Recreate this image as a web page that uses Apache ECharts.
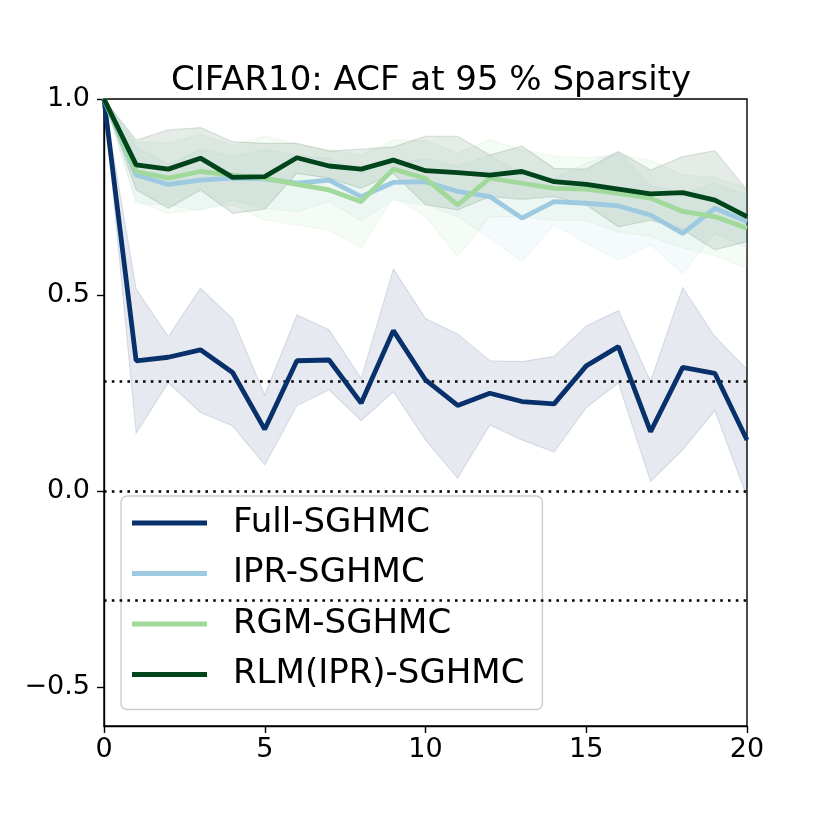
<!DOCTYPE html>
<html>
<head>
<meta charset="utf-8">
<script src="https://cdn.jsdelivr.net/npm/echarts@6/dist/echarts.min.js"></script>
<style>html,body{margin:0;padding:0;background:#fff}#c{width:830px;height:830px}</style>
</head>
<body>
<div id="c"></div>
<script>
const lags = [0,1,2,3,4,5,6,7,8,9,10,11,12,13,14,15,16,17,18,19,20];

const fullMean  = [1.0,0.332,0.341,0.36,0.302,0.157,0.332,0.334,0.224,0.409,0.283,0.218,0.249,0.228,0.222,0.319,0.368,0.151,0.315,0.30,0.13];
const fullUpper = [1.0,0.515,0.394,0.517,0.439,0.245,0.449,0.411,0.287,0.566,0.44,0.40,0.332,0.33,0.343,0.421,0.46,0.279,0.519,0.394,0.31];
const fullLower = [1.0,0.147,0.276,0.20,0.166,0.066,0.217,0.258,0.179,0.253,0.13,0.032,0.168,0.13,0.099,0.213,0.275,0.024,0.105,0.205,-0.015];

const iprMean  = [1.0,0.806,0.782,0.793,0.798,0.796,0.785,0.793,0.751,0.787,0.789,0.764,0.751,0.696,0.738,0.734,0.727,0.704,0.657,0.721,0.687];
const iprUpper = [1.0,0.878,0.834,0.871,0.854,0.871,0.857,0.848,0.813,0.832,0.848,0.828,0.857,0.807,0.797,0.836,0.865,0.78,0.759,0.785,0.754];
const iprLower = [1.0,0.734,0.73,0.715,0.742,0.721,0.713,0.738,0.689,0.742,0.73,0.70,0.645,0.585,0.679,0.632,0.589,0.628,0.555,0.657,0.62];

const rgmMean  = [1.0,0.815,0.798,0.815,0.806,0.798,0.782,0.768,0.738,0.821,0.797,0.73,0.798,0.785,0.772,0.77,0.759,0.747,0.713,0.70,0.67];
const rgmUpper = [1.0,0.89,0.888,0.91,0.882,0.905,0.885,0.87,0.857,0.895,0.894,0.862,0.896,0.87,0.854,0.85,0.858,0.844,0.806,0.80,0.772];
const rgmLower = [1.0,0.74,0.708,0.72,0.73,0.691,0.679,0.666,0.619,0.75,0.70,0.598,0.70,0.70,0.69,0.69,0.66,0.65,0.62,0.60,0.568];

const rlmMean  = [1.0,0.832,0.821,0.849,0.80,0.802,0.85,0.829,0.821,0.844,0.817,0.812,0.806,0.815,0.789,0.782,0.770,0.758,0.761,0.742,0.70];
const rlmUpper = [1.0,0.895,0.921,0.927,0.891,0.887,0.887,0.867,0.872,0.878,0.905,0.905,0.857,0.88,0.823,0.821,0.866,0.819,0.853,0.868,0.768];
const rlmLower = [1.0,0.768,0.721,0.768,0.708,0.719,0.81,0.798,0.772,0.81,0.73,0.717,0.751,0.744,0.751,0.73,0.674,0.691,0.667,0.615,0.636];

const thresholds = [0.283, 0, -0.283];
const yTicks = [-0.5, 0, 0.5, 1.0];

const names = ['Full-SGHMC','IPR-SGHMC','RGM-SGHMC','RLM(IPR)-SGHMC'];
const colors = ['#08306b','#9ecae1','#a1d99b','#00441b'];
const means = [fullMean, iprMean, rgmMean, rlmMean];
const uppers = [fullUpper, iprUpper, rgmUpper, rlmUpper];
const lowers = [fullLower, iprLower, rgmLower, rlmLower];

function hexA(hex, a){
  const r=parseInt(hex.slice(1,3),16), g=parseInt(hex.slice(3,5),16), b=parseInt(hex.slice(5,7),16);
  return 'rgba('+r+','+g+','+b+','+a+')';
}

const series = [];
for (let k=0;k<4;k++){
  const up = uppers[k], lo = lowers[k], col = colors[k];
  series.push({
    type:'custom', name: names[k]+' band', silent:true, z:1,
    data:[0],
    clip:true,
    renderItem:function(params, api){
      const pts=[];
      for(let i=0;i<lags.length;i++) pts.push(api.coord([lags[i], up[i]]));
      for(let i=lags.length-1;i>=0;i--) pts.push(api.coord([lags[i], lo[i]]));
      return {type:'polygon', shape:{points:pts},
        style:{fill:hexA(col,0.1), stroke:hexA(col,0.12), lineWidth:1.2}};
    }
  });
}
series.push({
  type:'line', name:'thr', data:[], silent:true, z:3,
  markLine:{silent:true, symbol:'none', label:{show:false},
    lineStyle:{color:'#000', width:2.6, type:[2.6,5.2]},
    data: thresholds.map(v=>({yAxis:v}))}
});
for (let k=0;k<4;k++){
  series.push({
    type:'line', name:names[k], z:5,
    data: lags.map((x,i)=>[x, means[k][i]]),
    symbol:'none', lineStyle:{color:colors[k], width:4.8}, itemStyle:{color:colors[k]},
    emphasis:{disabled:true}
  });
}

const chart = echarts.init(document.getElementById('c'), null, {renderer:'canvas'});
chart.setOption({
  animation:false,
  backgroundColor:'#fff',
  title:{text:'CIFAR10: ACF at 95 % Sparsity', left:426, top:59, textAlign:'center',
    textStyle:{fontFamily:'DejaVu Sans', fontSize:34, fontWeight:'normal', color:'#000'}},
  grid:{left:104, right:83, top:99, bottom:104, show:true, borderColor:'#000', borderWidth:1.4, backgroundColor:'transparent'},
  xAxis:{type:'value', min:0, max:20, interval:5,
    axisLine:{show:true, onZero:false, lineStyle:{color:'#000', width:1.4}},
    axisTick:{show:true, inside:false, length:7, lineStyle:{color:'#000', width:1.4}},
    axisLabel:{show:true, color:'#000', fontSize:27, fontFamily:'DejaVu Sans', margin:10},
    splitLine:{show:false}},
  yAxis:{type:'value', min:-0.6, max:1.0,
    axisLine:{show:true, lineStyle:{color:'#000', width:1.4}},
    axisTick:{show:true, inside:false, length:7, lineStyle:{color:'#000', width:1.4}, customValues:yTicks},
    axisLabel:{show:true, color:'#000', fontSize:27, fontFamily:'DejaVu Sans', margin:14, customValues:yTicks,
      formatter:function(v){ return (v<0?'\u2212':'') + Math.abs(v).toFixed(1); }},
    splitLine:{show:false}},
  legend:{
    data:names, orient:'vertical', left:121, top:496,
    icon:'rect', itemWidth:75, itemHeight:5, itemGap:16.5,
    padding:[10,18,18,11],
    backgroundColor:'rgba(255,255,255,0.8)', borderColor:'#cccccc', borderWidth:1.4, borderRadius:6,
    textStyle:{fontFamily:'DejaVu Sans', fontSize:34, color:'#000', lineHeight:34, padding:[0,0,0,21]},
    selectedMode:false
  },
  series:series
});
</script>
</body>
</html>
